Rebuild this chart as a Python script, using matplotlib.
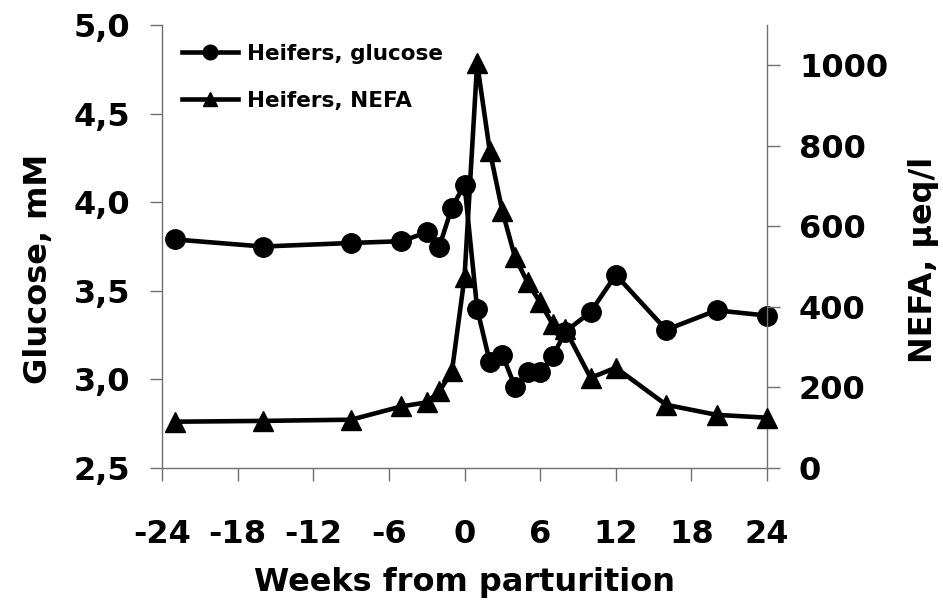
import matplotlib
matplotlib.use("Agg")
import matplotlib.pyplot as plt

plt.rcParams['font.family'] = ['DejaVu Sans']
plt.rcParams['font.weight'] = 'bold'

weeks = [-23, -16, -9, -5, -3, -2, -1, 0, 1, 2, 3, 4, 5, 6, 7, 8, 10, 12, 16, 20, 24]
glucose = [3.79, 3.75, 3.77, 3.78, 3.83, 3.75, 3.97, 4.10, 3.40, 3.10, 3.14, 2.96,
           3.04, 3.04, 3.13, 3.27, 3.38, 3.59, 3.28, 3.39, 3.36]
nefa = [115, 117, 120, 153, 163, 190, 240, 474, 1005, 788, 638, 524,
        461, 411, 357, 344, 224, 249, 157, 132, 125]

xticks = [-24, -18, -12, -6, 0, 6, 12, 18, 24]
gticks = [2.5, 3.0, 3.5, 4.0, 4.5, 5.0]
nticks = [0, 200, 400, 600, 800, 1000]

fs = 23

fig = plt.figure(figsize=(9.43, 6.06), dpi=100)
ax = fig.add_axes([0.1718, 0.2277, 0.6416, 0.731])
ax2 = ax.twinx()

l1, = ax.plot(weeks, glucose, color='black', lw=3.3, marker='o', ms=14,
              label='Heifers, glucose', clip_on=False, zorder=3)
l2, = ax2.plot(weeks, nefa, color='black', lw=3.3, marker='^', ms=14,
               label='Heifers, NEFA', clip_on=False, zorder=3)

ax.set_xlim(-24, 24)
ax.set_ylim(2.5, 5.0)
ax2.set_ylim(0, 1100)

ax.set_xticks(xticks)
ax.set_xticklabels([str(t) for t in xticks])
ax.set_yticks(gticks)
ax.set_yticklabels([f"{t:.1f}".replace('.', ',') for t in gticks])
ax2.set_yticks(nticks)

for a in (ax, ax2):
    a.spines['top'].set_visible(False)
    for s in a.spines.values():
        s.set_color('#707070')
        s.set_linewidth(1)
    a.tick_params(colors='#707070', labelcolor='black', labelsize=fs,
                  length=9, width=1, direction='out')
ax.spines['right'].set_visible(False)
ax2.spines['left'].set_visible(False)
ax2.spines['bottom'].set_visible(False)
ax.tick_params(axis='x', pad=28)
ax.tick_params(axis='y', pad=14)
ax2.tick_params(axis='y', pad=14)

ax.set_xlabel('Weeks from parturition', fontsize=fs, fontweight='bold', labelpad=12)
ax.set_ylabel('Glucose, mM', fontsize=fs, fontweight='bold', labelpad=14)
ax2.set_ylabel('NEFA, µeq/l', fontsize=fs, fontweight='bold', labelpad=14)
ax.yaxis.label.set_y(0.45)
ax2.yaxis.label.set_y(0.47)

ax2.legend(handles=[l1, l2], loc='upper left', bbox_to_anchor=(0.033, 0.958),
           frameon=False, markerscale=0.75, handlelength=2.6,
           handletextpad=0.4, labelspacing=1.27, borderaxespad=0, borderpad=0,
           prop={'weight': 'bold', 'size': 15.5})

fig.savefig('out.png', dpi=100)
